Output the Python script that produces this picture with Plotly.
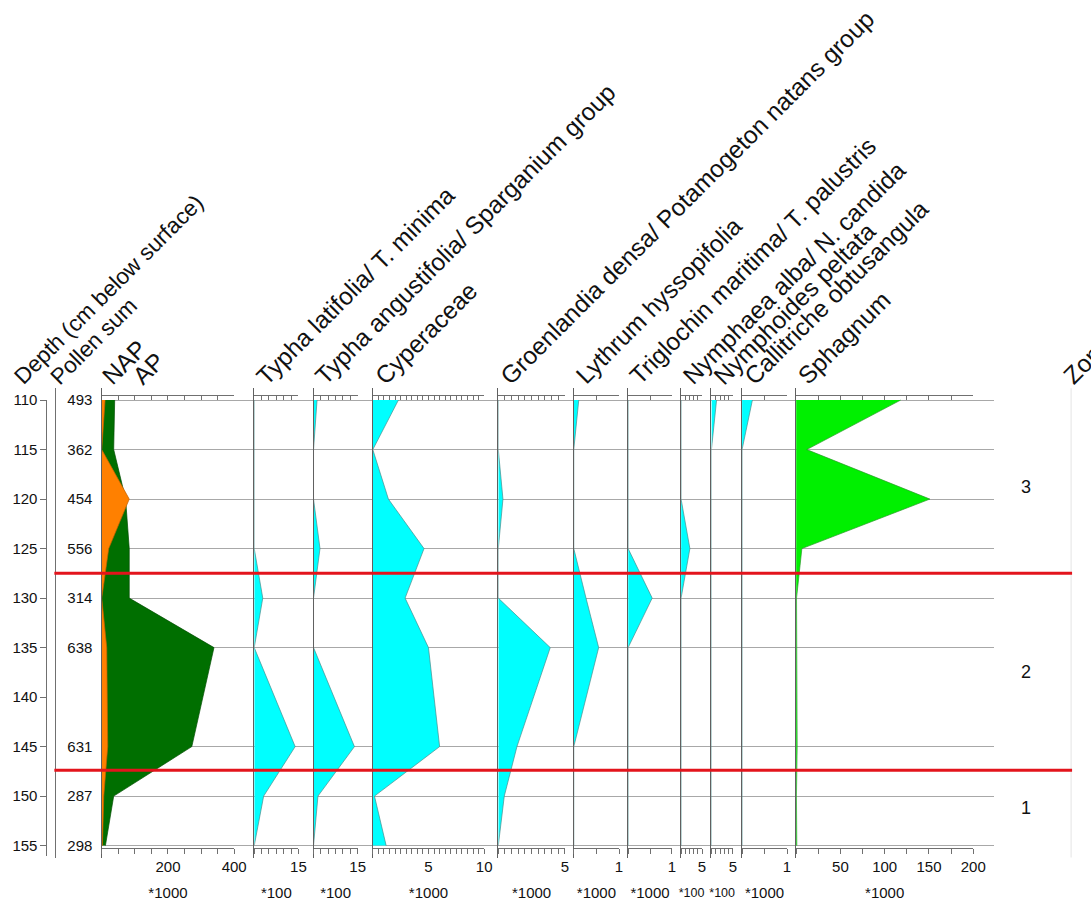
import plotly.graph_objects as go

# ---------------- data ----------------
depth = [110, 115, 120, 125, 130, 135, 145, 150, 155]
depth_ticks = [110, 115, 120, 125, 130, 135, 140, 145, 150, 155]
pollen_sum = [493, 362, 454, 556, 314, 638, 631, 287, 298]

ap = [39, 36, 72, 83, 83, 339, 272, 36, 11]            # *1000
nap = [10, 0, 83, 21, 0, 15, 18, 6, 2]                 # *1000
typha_latifolia = [0, 0, 0, 0, 2.9, 0, 13.9, 3.2, 0]   # *100
typha_angustifolia = [1.2, 0, 0, 2.2, 0, 0, 13.9, 1.5, 0]  # *100
cyperaceae = [2.3, 0, 1.4, 4.6, 2.9, 5.0, 6.0, 0.15, 1.2]  # *1000
groenlandia = [0, 0, 0.35, 0, 0, 3.9, 1.4, 0.45, 0]   # *1000
lythrum = [0.11, 0, 0, 0, 0.27, 0.55, 0, 0, 0]        # *1000
triglochin = [0, 0, 0, 0, 0.55, 0, 0, 0, 0]           # *1000
nymphaea = [0, 0, 0, 2.1, 0, 0, 0, 0, 0]              # *100
nymphoides = [1.2, 0, 0, 0, 0, 0, 0, 0, 0]            # *100
callitriche = [0.23, 0, 0, 0, 0, 0, 0, 0, 0]          # *1000
sphagnum = [118, 12, 151, 6.5, 0.5, 0.6, 1.2, 0.4, 0.8]  # *1000

zone_boundaries = [127.5, 147.4]
zone_names = ["3", "2", "1"]
core_top, core_bottom = 110, 155

# ---------------- layout helpers ----------------
W, H = 1091, 908
FONT = "Liberation Sans, Arial, sans-serif"
AXC = "#707070"
GRIDC = "#a8a8a8"
CYAN = "#00FFFF"
CYAN_LINE = "#4a8c8c"


def fx(px):
    return px / W


def fy(py):
    return 1 - py / H


def depth_at(py):
    # 10 px per cm, depth 110 at y=395
    return core_top + (py - 395) / 10.0


def fmt(v):
    return f"{v:g}"


PANEL_TOP, PANEL_BOT = 383, 857
Y_RANGE = [depth_at(PANEL_BOT), depth_at(PANEL_TOP)]

panels = [
    dict(title="", x0=103, x1=237, vmax=400, step=50, labels=[200, 400], mult="*1000",
         series=[(ap, "#006F00", "#004d00"), (nap, "#FF8000", "#c06000")]),
    dict(title="Typha latifolia/ T. minima", x0=257.3, x1=302, vmax=15, step=2.5, labels=[15], mult="*100",
         series=[(typha_latifolia, CYAN, CYAN_LINE)]),
    dict(title="Typha angustifolia/ Sparganium group", x0=317.3, x1=362, vmax=15, step=2.5, labels=[15], mult="*100",
         series=[(typha_angustifolia, CYAN, CYAN_LINE)]),
    dict(title="Cyperaceae", x0=377.3, x1=490, vmax=10, step=0.5, labels=[5, 10], mult="*1000",
         series=[(cyperaceae, CYAN, CYAN_LINE)]),
    dict(title="Groenlandia densa/ Potamogeton natans group", x0=504.3, x1=571.7, vmax=5, step=0.5, labels=[5], mult="*1000",
         series=[(groenlandia, CYAN, CYAN_LINE)]),
    dict(title="Lythrum hyssopifolia", x0=580.7, x1=626.5, vmax=1, step=0.5, labels=[1], mult="*1000",
         series=[(lythrum, CYAN, CYAN_LINE)]),
    dict(title="Triglochin maritima/ T. palustris", x0=635.7, x1=680, vmax=1, step=0.5, labels=[1], mult="*1000",
         series=[(triglochin, CYAN, CYAN_LINE)]),
    dict(title="Nymphaea alba/ N. candida", x0=689.3, x1=710.5, vmax=5, step=1, labels=[5], mult="*100", small=True,
         series=[(nymphaea, CYAN, CYAN_LINE)]),
    dict(title="Nymphoides peltata", x0=720, x1=741.7, vmax=5, step=1, labels=[5], mult="*100", small=True,
         series=[(nymphoides, CYAN, CYAN_LINE)]),
    dict(title="Callitriche obtusangula", x0=751, x1=796.5, vmax=1, step=0.5, labels=[1], mult="*1000",
         series=[(callitriche, CYAN, CYAN_LINE)]),
    dict(title="Sphagnum", x0=805.7, x1=985, vmax=200, step=25, labels=[50, 100, 150, 200], mult="*1000",
         series=[(sphagnum, "#00F000", "#2a9a2a")]),
]

fig = go.Figure()
layout = dict(
    width=W, height=H, margin=dict(l=0, r=0, t=0, b=0),
    paper_bgcolor="white", plot_bgcolor="rgba(0,0,0,0)",
    showlegend=False, font=dict(family=FONT, color="#111"),
)

# background grid subplot (x, y)
layout["xaxis"] = dict(domain=[fx(103), fx(1006)], range=[0, 1], visible=False, fixedrange=True)
layout["yaxis"] = dict(domain=[fy(PANEL_BOT), fy(PANEL_TOP)], range=Y_RANGE, anchor="x",
                       tickvals=depth, showgrid=True, gridcolor=GRIDC, gridwidth=1,
                       showticklabels=False, ticks="", showline=False, zeroline=False)
fig.add_trace(go.Scatter(x=[None], y=[None], xaxis="x", yaxis="y", hoverinfo="skip"))

# depth axis (y2)
layout["yaxis2"] = dict(domain=[fy(855), fy(395)], range=[depth_at(855), core_top],
                        anchor="free", position=fx(47), side="left",
                        tickvals=depth_ticks, ticktext=[str(d) for d in depth_ticks],
                        ticks="outside", ticklen=6, tickcolor=AXC, showline=True, linecolor=AXC,
                        showgrid=False, zeroline=False, tickfont=dict(size=15, color="#111"))
fig.add_trace(go.Scatter(x=[None], y=[None], xaxis="x", yaxis="y2", hoverinfo="skip"))

# pollen sum axis (y3)
layout["yaxis3"] = dict(domain=[fy(PANEL_BOT), fy(PANEL_TOP)], range=Y_RANGE,
                        anchor="free", position=fx(56), side="right",
                        tickvals=depth, ticktext=[str(v) for v in pollen_sum],
                        ticks="outside", ticklen=8, tickcolor="rgba(0,0,0,0)",
                        showline=True, linecolor=AXC,
                        showgrid=False, zeroline=False, tickfont=dict(size=15, color="#111"))
fig.add_trace(go.Scatter(x=[None], y=[None], xaxis="x", yaxis="y3", hoverinfo="skip"))

n = len(panels)
for i, p in enumerate(panels):
    xb = 2 + i          # bottom x axis id
    xt = 2 + n + i      # top x axis id
    yi = 4 + i          # y axis id
    nt = int(round(p["vmax"] / p["step"]))
    tv = [round(k * p["step"], 4) for k in range(nt + 1)]
    tt = [fmt(v) if any(abs(v - l) < 1e-9 for l in p["labels"]) else "" for v in tv]
    small = p.get("small", False)
    layout[f"xaxis{xb}"] = dict(
        domain=[fx(p["x0"]), fx(p["x1"])], range=[0, p["vmax"]], anchor="free", position=fy(847),
        side="bottom", showline=True, linecolor=AXC, linewidth=1,
        ticks="outside", ticklen=5, tickcolor=AXC, tickvals=tv, ticktext=tt,
        tickfont=dict(size=15, color="#111"), showgrid=False, zeroline=False,
        title=dict(text=p["mult"], font=dict(size=12.5 if small else 15, color="#111"),
                   standoff=14 if small else 13),
    )
    layout[f"xaxis{xt}"] = dict(
        overlaying=f"x{xb}", range=[0, p["vmax"]], anchor="free", position=fy(390),
        side="top", showline=True, linecolor=AXC, linewidth=1,
        ticks="inside", ticklen=4, tickcolor=AXC, tickvals=tv, showticklabels=False,
        showgrid=False, zeroline=False,
    )
    layout[f"yaxis{yi}"] = dict(
        domain=[fy(PANEL_BOT), fy(PANEL_TOP)], range=Y_RANGE, anchor=f"x{xb}",
        showline=True, linecolor="#606060", linewidth=1, ticks="", showticklabels=False,
        showgrid=False, zeroline=False,
    )
    for vals, fc, lc in p["series"]:
        fig.add_trace(go.Scatter(x=vals, y=depth, xaxis=f"x{xb}", yaxis=f"y{yi}", mode="lines",
                                 fill="tozerox", fillcolor=fc, line=dict(color=lc, width=0.7),
                                 hoverinfo="skip"))
    fig.add_trace(go.Scatter(x=[None], y=[None], xaxis=f"x{xt}", yaxis=f"y{yi}", hoverinfo="skip"))

# zone boundaries
shapes = []
for zb in zone_boundaries:
    shapes.append(dict(type="line", xref="paper", yref="y", x0=fx(55), x1=fx(1085), y0=zb, y1=zb,
                       line=dict(color="#E3141C", width=3), layer="above"))
shapes.append(dict(type="line", xref="paper", yref="paper", x0=fx(1084), x1=fx(1084),
                   y0=fy(857), y1=fy(383), line=dict(color="#e4e4e4", width=1), layer="below"))

annotations = []
bounds = [core_top] + zone_boundaries + [core_bottom]
for k, name in enumerate(zone_names):
    annotations.append(dict(text=name, xref="paper", yref="y", x=fx(1045), y=(bounds[k] + bounds[k + 1]) / 2,
                            showarrow=False, font=dict(size=18, color="#111")))

HEAD_Y = 387
HF = 24.5
HF_LEFT = 22.5
headers = [("Depth (cm below surface)", 7, HF_LEFT), ("Pollen sum", 43, HF_LEFT), ("NAP", 95, HF), ("AP", 126, HF),
           ("Zones", 1068, HF)]
for p in panels:
    if p["title"]:
        headers.append((p["title"], p["x0"] - 6, HF))
for txt, xpx, fs in headers:
    annotations.append(dict(text=txt, xref="paper", yref="paper", x=fx(xpx), y=fy(HEAD_Y),
                            xanchor="left", yanchor="bottom", textangle=-45, showarrow=False,
                            font=dict(size=fs, color="#111")))

layout["shapes"] = shapes
layout["annotations"] = annotations
fig.update_layout(**layout)

# pin the figure to the page's top-left corner so the page is exactly the window size
pin = ("var d=document.getElementById('{plot_id}');"
       "document.documentElement.style.margin='0';document.body.style.margin='0';"
       "document.documentElement.style.overflow='hidden';document.body.style.overflow='hidden';"
       "d.style.position='fixed';d.style.left='0px';d.style.top='0px';")
fig.write_html("out.html", post_script=pin, config={"displayModeBar": False})
